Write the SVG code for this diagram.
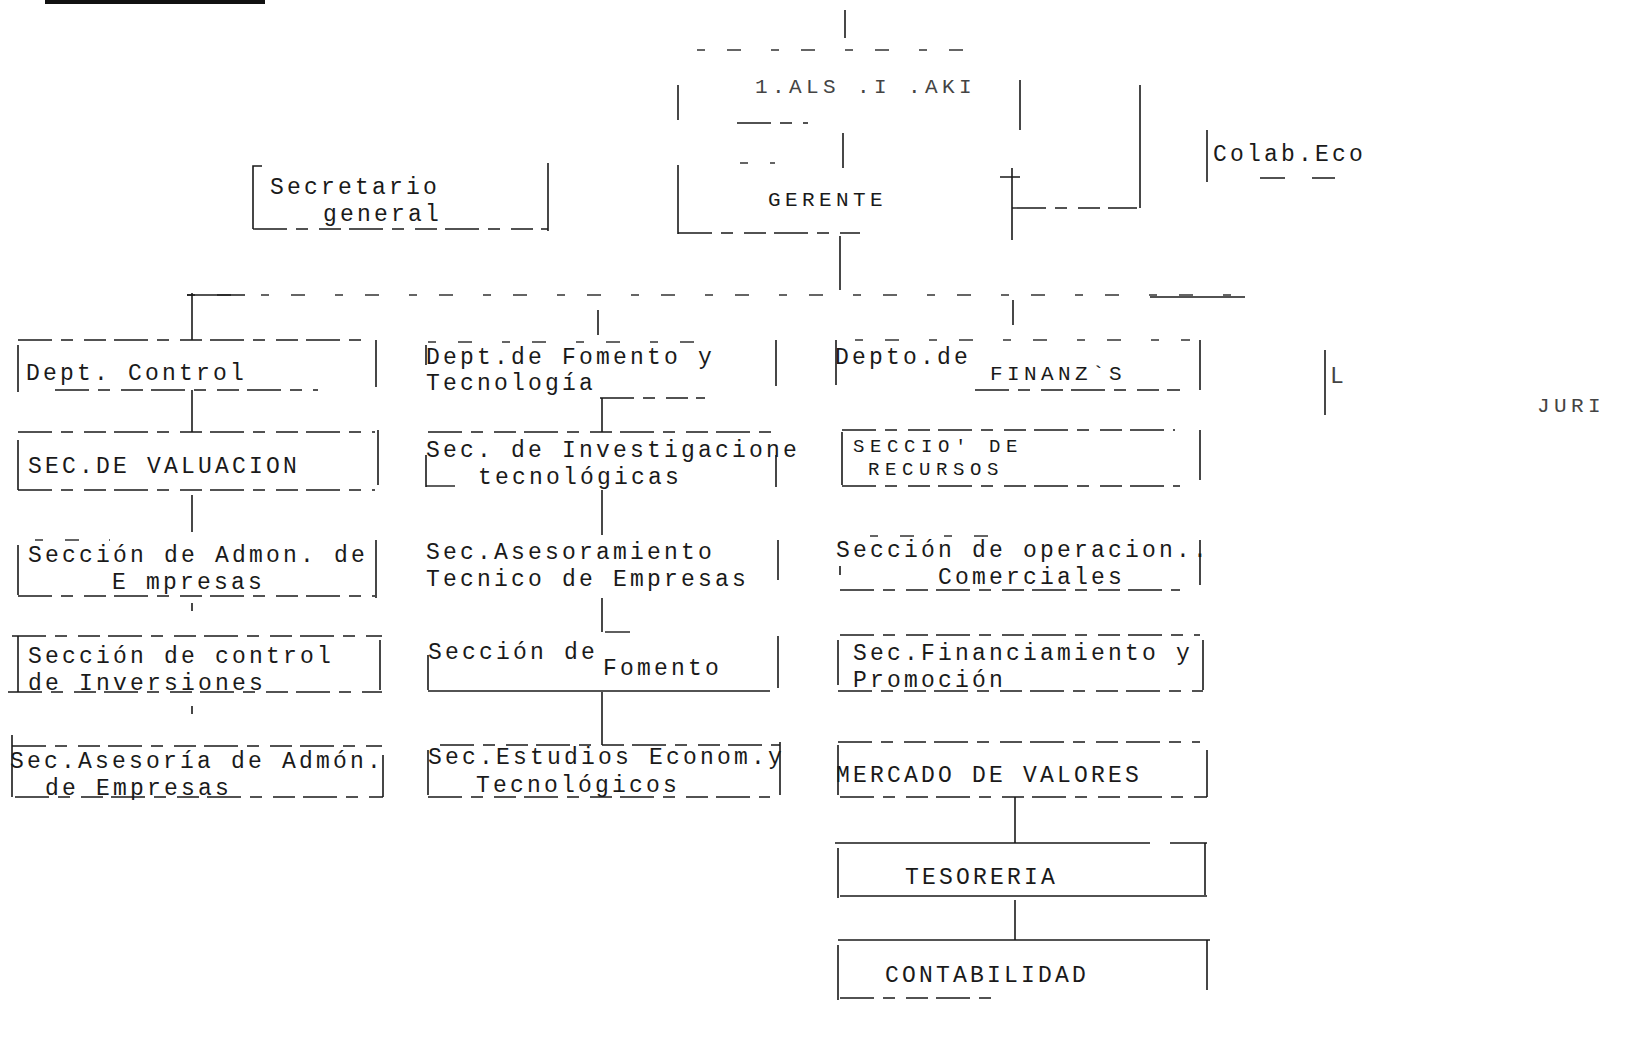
<svg xmlns="http://www.w3.org/2000/svg" width="1636" height="1041" viewBox="0 0 1636 1041">
<style>
.v{stroke:#1a1a1a;stroke-width:1.6;fill:none}
.s{stroke:#1a1a1a;stroke-width:1.4;fill:none}
.d{stroke:#1a1a1a;stroke-width:1.4;fill:none;stroke-dasharray:34 9 12 11 22 8}
.f{stroke:#333;stroke-width:1.3;fill:none;stroke-dasharray:8 22 14 30}
text{font-family:"Liberation Mono","DejaVu Sans Mono",monospace;font-size:23px;fill:#1a1a1a;letter-spacing:3.2px}
.sm{font-size:21px;letter-spacing:4.4px}
.xs{font-size:19px;letter-spacing:5.6px}
.faint{fill:#444}
</style>
<rect width="1636" height="1041" fill="#fff"/>
<line x1="45" y1="2" x2="265" y2="2" stroke="#111" stroke-width="4"/>

<g id="connectors">
<path class="v" d="M845 10V38"/>
<path class="v" d="M843 133V168"/>
<path class="v" d="M840 236V290"/>
<path class="d" d="M1012 208H1137"/>
<path class="v" d="M1140 85V208"/>
<path class="f" d="M187 295H1245"/>
<path class="s" d="M187 295H245"/>
<path class="s" d="M1150 297H1245"/>
<path class="v" d="M192 293V340"/>
<path class="v" d="M598 310V335"/>
<path class="v" d="M1013 300V325"/>
<path class="v" d="M192 390V432"/>
<path class="v" d="M192 495V532"/>
<path class="v" d="M192 603V611"/>
<path class="v" d="M192 706V714"/>
<path class="v" d="M602 398V432"/>
<path class="v" d="M602 490V535"/>
<path class="v" d="M602 598V632"/>
<path class="v" d="M602 692V745"/>
<path class="v" d="M1015 797V843"/>
<path class="v" d="M1015 900V940"/>
</g>

<g id="node-top">
<path class="f" d="M697 50H990"/>
<path class="v" d="M678 85V120"/>
<path class="d" d="M737 123H808"/>
<path class="v" d="M1020 80V130"/>
<text x="755" y="93" class="sm faint">1.ALS .I .AKI</text>
</g>

<g id="node-gerente">
<path class="v" d="M678 165V234"/>
<path class="f" d="M740 163H775"/>
<path class="d" d="M678 233H860"/>
<path class="v" d="M1012 168V240M1000 177H1020"/>
<text x="768" y="206" class="sm">GERENTE</text>
</g>

<g id="node-colab">
<path class="v" d="M1207 130V182"/>
<path class="s" d="M1260 178H1285M1312 178H1335"/>
<text x="1213" y="161">Colab.Eco</text>
</g>

<g id="node-secretario">
<path class="v" d="M262 166H253V229"/>
<path class="d" d="M253 229H548"/>
<path class="v" d="M548 163V231"/>
<text x="270" y="194">Secretario</text>
<text x="323" y="221">general</text>
</g>

<g id="node-juridico">
<path class="v" d="M1325 350V415"/>
<text x="1330" y="383" class="faint">L</text>
<text x="1537" y="412" class="sm faint">JURI</text>
</g>

<g id="node-control">
<path class="d" d="M18 340H365"/>
<path class="v" d="M18 345V392M376 340V387"/>
<path class="d" d="M55 390H318"/>
<text x="26" y="380">Dept. Control</text>
</g>

<g id="node-valuacion">
<path class="d" d="M18 432H375M18 490H375"/>
<path class="v" d="M18 440V490M378 430V485"/>
<text x="28" y="473">SEC.DE VALUACION</text>
</g>

<g id="node-admon">
<path class="f" d="M35 540H110"/>
<path class="v" d="M18 545V595M376 540V598"/>
<path class="d" d="M18 596H375"/>
<text x="28" y="562">Sección de Admon. de</text>
<text x="112" y="589">E mpresas</text>
</g>

<g id="node-inversiones">
<path class="d" d="M12 636H382M8 692H382"/>
<path class="v" d="M18 636V692M380 640V690"/>
<text x="28" y="663">Sección de control</text>
<text x="28" y="690">de Inversiones</text>
</g>

<g id="node-asesoria">
<path class="d" d="M12 746H382M15 797H383"/>
<path class="v" d="M12 735V797M383 755V797"/>
<text x="10" y="768">Sec.Asesoría de Admón.</text>
<text x="45" y="795">de Empresas</text>
</g>

<g id="node-fomento-dept">
<path class="f" d="M428 342H720"/>
<path class="v" d="M426 345V365M776 340V386"/>
<path class="d" d="M600 398H705"/>
<text x="426" y="364">Dept.de Fomento y</text>
<text x="426" y="390">Tecnología</text>
</g>

<g id="node-investigaciones">
<path class="d" d="M428 432H780"/>
<path class="v" d="M426 455V487M776 455V487"/>
<path class="s" d="M426 486H455"/>
<text x="426" y="457">Sec. de Investigacione</text>
<text x="478" y="484">tecnológicas</text>
</g>

<g id="node-asesoramiento">
<path class="v" d="M778 540V580"/>
<text x="426" y="559">Sec.Asesoramiento</text>
<text x="426" y="586">Tecnico de Empresas</text>
</g>

<g id="node-fomento-sec">
<path class="s" d="M605 632H630"/>
<path class="v" d="M428 655V690M778 636V688"/>
<path class="s" d="M428 691H770"/>
<text x="428" y="659">Sección de</text>
<text x="603" y="675">Fomento</text>
</g>

<g id="node-estudios">
<path class="d" d="M440 745H780M428 797H770"/>
<path class="v" d="M428 750V795M780 742V795"/>
<text x="428" y="764">Sec.Estudios Econom.y</text>
<text x="476" y="792">Tecnológicos</text>
</g>

<g id="node-finanzas">
<path class="f" d="M855 340H1190"/>
<path class="v" d="M836 340V385M1200 340V390"/>
<path class="d" d="M975 390H1180"/>
<text x="835" y="364">Depto.de</text>
<text x="990" y="380" class="sm">FINANZ`S</text>
</g>

<g id="node-recursos">
<path class="d" d="M842 430H1175M842 486H1180"/>
<path class="v" d="M842 432V485M1200 430V480"/>
<text x="853" y="452" class="xs">SECCIO' DE</text>
<text x="868" y="475" class="xs">RECURSOS</text>
</g>

<g id="node-operaciones">
<path class="f" d="M870 536H1000"/>
<path class="d" d="M840 590H1180"/>
<path class="v" d="M840 566V575M1200 540V585"/>
<text x="836" y="557">Sección de operacion..</text>
<text x="938" y="584">Comerciales</text>
</g>

<g id="node-financiamiento">
<path class="d" d="M840 635H1200M838 691H1203"/>
<path class="v" d="M838 640V685M1203 640V690"/>
<text x="853" y="660">Sec.Financiamiento y</text>
<text x="853" y="687">Promoción</text>
</g>

<g id="node-mercado">
<path class="d" d="M838 742H1200M840 797H1207"/>
<path class="v" d="M838 745V795M1207 750V797"/>
<text x="836" y="782">MERCADO DE VALORES</text>
</g>

<g id="node-tesoreria">
<path class="s" d="M835 843H1150M1170 843H1207M840 896H1207"/>
<path class="v" d="M838 848V898M1205 843V895"/>
<text x="905" y="884">TESORERIA</text>
</g>

<g id="node-contabilidad">
<path class="s" d="M838 940H1210"/>
<path class="d" d="M840 998H1000"/>
<path class="v" d="M838 945V1000M1207 940V990"/>
<text x="885" y="982">CONTABILIDAD</text>
</g>
</svg>
